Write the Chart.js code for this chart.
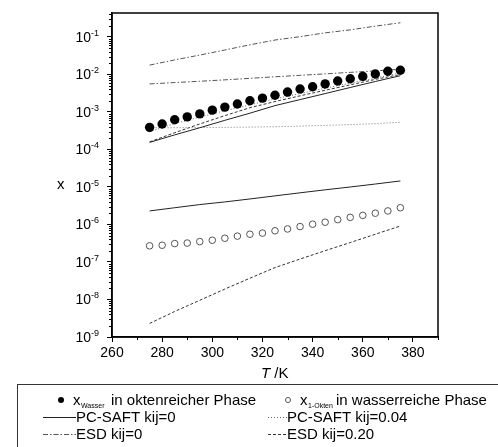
<!DOCTYPE html>
<html>
<head>
<meta charset="utf-8">
<script src="https://cdn.jsdelivr.net/npm/chart.js@4/dist/chart.umd.min.js"></script>
<style>
html, body { margin: 0; padding: 0; background: #fff; }
#wrap { width: 498px; height: 447px; }
</style>
</head>
<body>
<div id="wrap"><canvas id="c" width="498" height="447"></canvas></div>
<script>
// measured points (T in K)
var tempPoints = [275, 280, 285, 290, 295, 300, 305, 310, 315, 320, 325, 330, 335, 340, 345, 350, 355, 360, 365, 370, 375];
var xWasser = [3.9e-4, 4.8e-4, 6.2e-4, 7.4e-4, 8.9e-4, 1.12e-3, 1.35e-3, 1.63e-3, 2.0e-3, 2.35e-3, 2.8e-3, 3.4e-3, 4.1e-3, 4.7e-3, 5.6e-3, 6.7e-3, 7.7e-3, 8.9e-3, 1.03e-2, 1.22e-2, 1.3e-2];
var xOkten = [2.7e-7, 2.8e-7, 3.1e-7, 3.2e-7, 3.5e-7, 3.8e-7, 4.3e-7, 4.9e-7, 5.5e-7, 5.9e-7, 6.8e-7, 7.6e-7, 8.8e-7, 1.02e-6, 1.15e-6, 1.35e-6, 1.55e-6, 1.75e-6, 2.0e-6, 2.3e-6, 2.8e-6];

// model curves
var tempLines = [275, 285, 295, 305, 315, 325, 335, 345, 355, 365, 375];
var pcsaft0_org = [1.55e-4, 2.45e-4, 3.8e-4, 6.0e-4, 9.3e-4, 1.48e-3, 2.14e-3, 3.1e-3, 4.5e-3, 6.5e-3, 9.3e-3];
var pcsaft0_aq = [2.3e-6, 2.8e-6, 3.4e-6, 4.0e-6, 4.8e-6, 5.8e-6, 7.0e-6, 8.4e-6, 1.0e-5, 1.2e-5, 1.45e-5];
var pcsaft004_org = [3.0e-4, 4.9e-4, 7.3e-4, 1.08e-3, 1.55e-3, 2.25e-3, 3.1e-3, 4.3e-3, 5.9e-3, 8.0e-3, 1.1e-2];
var pcsaft004_aq = [3.8e-4, 3.8e-4, 3.85e-4, 3.9e-4, 3.95e-4, 4.05e-4, 4.2e-4, 4.4e-4, 4.6e-4, 4.9e-4, 5.3e-4];
var esd0_top = [1.78e-2, 2.45e-2, 3.3e-2, 4.5e-2, 6.2e-2, 8.3e-2, 0.102, 0.129, 0.155, 0.195, 0.24];
var esd0_mid = [5.6e-3, 6.1e-3, 6.6e-3, 7.2e-3, 7.9e-3, 8.7e-3, 9.5e-3, 1.04e-2, 1.14e-2, 1.25e-2, 1.38e-2];
var esd020_org = [1.6e-4, 2.8e-4, 4.8e-4, 8.0e-4, 1.3e-3, 1.9e-3, 2.7e-3, 3.8e-3, 5.3e-3, 7.4e-3, 1.0e-2];
var esd020_aq = [2.3e-9, 4.8e-9, 9.5e-9, 1.9e-8, 3.7e-8, 7.1e-8, 1.2e-7, 2.0e-7, 3.3e-7, 5.5e-7, 9.1e-7];

// axes
var xTickValues = [260, 280, 300, 320, 340, 360, 380];
var xMinorValues = [270, 290, 310, 330, 350, 370, 390];
var yExponents = [-9, -8, -7, -6, -5, -4, -3, -2, -1];

var FONT = "'Liberation Sans', Arial, sans-serif";
var DASHDOT = [5, 2, 1.5, 2];
var DOTTED = [1, 2];
var DASHED = [3, 2];

function pts(xs, ys) {
  return xs.map(function (t, i) { return { x: t, y: ys[i] }; });
}

function lineSet(label, ys, color, dash) {
  return {
    label: label,
    data: pts(tempLines, ys),
    showLine: true,
    pointRadius: 0,
    borderColor: color,
    borderWidth: 1,
    borderDash: dash,
    fill: false,
    tension: 0
  };
}

var decor = {
  id: 'decor',
  afterDraw: function (chart) {
    var ctx = chart.ctx, a = chart.chartArea;
    var x = chart.scales.x, y = chart.scales.y;
    ctx.save();
    ctx.strokeStyle = '#000';
    ctx.lineWidth = 1.5;
    ctx.strokeRect(a.left, a.top, a.right - a.left, a.bottom - a.top);

    // minor ticks
    ctx.lineWidth = 1;
    ctx.beginPath();
    xMinorValues.forEach(function (t) {
      var px = Math.round(x.getPixelForValue(t)) + 0.5;
      ctx.moveTo(px, a.bottom);
      ctx.lineTo(px, a.bottom + 3);
    });
    yExponents.forEach(function (e) {
      for (var m = 2; m <= 9; m++) {
        var v = m * Math.pow(10, e);
        if (v > y.max) continue;
        var py = Math.round(y.getPixelForValue(v)) + 0.5;
        ctx.moveTo(a.left - 3, py);
        ctx.lineTo(a.left, py);
      }
    });
    ctx.stroke();

    // y tick labels 10^n
    ctx.fillStyle = '#000';
    ctx.textBaseline = 'alphabetic';
    yExponents.forEach(function (e) {
      var py = y.getPixelForValue(Math.pow(10, e));
      ctx.textAlign = 'right';
      ctx.font = '14px ' + FONT;
      ctx.fillText('10', 91, py + 5);
      ctx.textAlign = 'left';
      ctx.font = '9px ' + FONT;
      ctx.fillText(String(e), 91, py - 1);
    });

    // axis titles
    ctx.textAlign = 'left';
    ctx.font = '15px ' + FONT;
    ctx.fillText('x', 57, 189);
    ctx.font = 'italic 15px ' + FONT;
    ctx.fillText('T', 261, 378);
    var tw = ctx.measureText('T').width;
    ctx.font = '15px ' + FONT;
    ctx.fillText(' /K', 261 + tw, 378);

    // legend box
    ctx.strokeStyle = '#333';
    ctx.lineWidth = 1;
    ctx.strokeRect(17.5, 384.5, 600, 200);

    var r1 = 400, r2 = 417, r3 = 434;
    // row 1
    ctx.fillStyle = '#000';
    ctx.beginPath();
    ctx.arc(61, r1, 3, 0, Math.PI * 2);
    ctx.fill();
    ctx.strokeStyle = '#555';
    ctx.beginPath();
    ctx.arc(288, r1, 2.5, 0, Math.PI * 2);
    ctx.stroke();

    ctx.font = '15px ' + FONT;
    ctx.fillText('x', 73, r1 + 5);
    ctx.font = '7px ' + FONT;
    ctx.fillText('Wasser', 81, r1 + 8);
    ctx.font = '15px ' + FONT;
    ctx.fillText('in oktenreicher Phase', 111, r1 + 5);

    ctx.fillText('x', 300, r1 + 5);
    ctx.font = '7px ' + FONT;
    ctx.fillText('1-Okten', 308, r1 + 8);
    ctx.font = '15px ' + FONT;
    ctx.fillText('in wasserreiche Phase', 336, r1 + 5);

    // rows 2-3
    var items = [
      [43, 76, r2, '#222', [], 'PC-SAFT kij=0'],
      [268, 287, r2, '#666', DOTTED, 'PC-SAFT kij=0.04'],
      [43, 76, r3, '#555', DASHDOT, 'ESD kij=0'],
      [268, 287, r3, '#333', DASHED, 'ESD kij=0.20']
    ];
    items.forEach(function (it) {
      ctx.strokeStyle = it[3];
      ctx.setLineDash(it[4]);
      ctx.beginPath();
      ctx.moveTo(it[0], it[2] + 0.5);
      ctx.lineTo(it[1], it[2] + 0.5);
      ctx.stroke();
      ctx.setLineDash([]);
      ctx.fillText(it[5], it[1], it[2] + 5);
    });
    ctx.restore();
  }
};

var chart = new Chart(document.getElementById('c'), {
  type: 'scatter',
  data: {
    datasets: [
      {
        label: 'x Wasser in oktenreicher Phase',
        data: pts(tempPoints, xWasser),
        pointRadius: 4.7,
        pointBackgroundColor: '#000',
        pointBorderColor: '#000',
        pointBorderWidth: 0,
        showLine: false
      },
      {
        label: 'x 1-Okten in wasserreiche Phase',
        data: pts(tempPoints, xOkten),
        pointRadius: 3.3,
        pointBackgroundColor: '#fff',
        pointBorderColor: '#555',
        pointBorderWidth: 1,
        showLine: false
      },
      lineSet('PC-SAFT kij=0', pcsaft0_org, '#222', []),
      lineSet('PC-SAFT kij=0', pcsaft0_aq, '#222', []),
      lineSet('PC-SAFT kij=0.04', pcsaft004_org, '#666', DOTTED),
      lineSet('PC-SAFT kij=0.04', pcsaft004_aq, '#777', DOTTED),
      lineSet('ESD kij=0', esd0_top, '#555', DASHDOT),
      lineSet('ESD kij=0', esd0_mid, '#555', DASHDOT),
      lineSet('ESD kij=0.20', esd020_org, '#333', DASHED),
      lineSet('ESD kij=0.20', esd020_aq, '#333', DASHED)
    ]
  },
  options: {
    responsive: false,
    devicePixelRatio: 1,
    animation: false,
    layout: { padding: { left: 0, top: 13, right: 60, bottom: 0 } },
    plugins: { legend: { display: false }, tooltip: { enabled: false } },
    scales: {
      x: {
        type: 'linear',
        min: 260,
        max: 390,
        afterBuildTicks: function (scale) {
          scale.ticks = xTickValues.map(function (v) { return { value: v }; });
        },
        afterFit: function (scale) { scale.height = 110; },
        ticks: { color: '#000', font: { family: FONT, size: 14 }, padding: 3, maxRotation: 0 },
        grid: { drawOnChartArea: false, tickLength: 5, color: '#000', tickWidth: 1 },
        border: { color: '#000', width: 1.5 }
      },
      y: {
        type: 'logarithmic',
        min: 1e-9,
        max: 0.4365,
        afterBuildTicks: function (scale) {
          scale.ticks = yExponents.map(function (e) { return { value: Math.pow(10, e), major: true }; });
        },
        afterFit: function (scale) { scale.width = 112; },
        ticks: { callback: function () { return ''; } },
        grid: { drawOnChartArea: false, tickLength: 5, color: '#000', tickWidth: 1 },
        border: { color: '#000', width: 1.5 }
      }
    }
  },
  plugins: [decor]
});
</script>
</body>
</html>
